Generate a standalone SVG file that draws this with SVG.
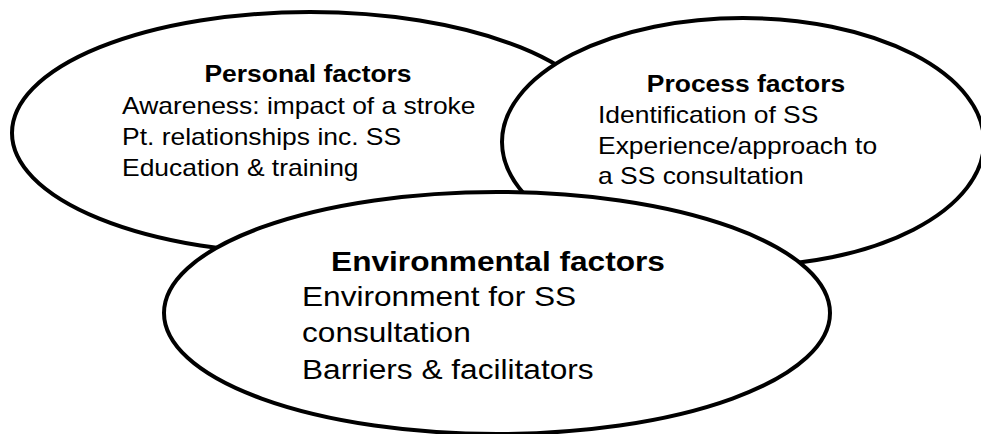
<svg xmlns="http://www.w3.org/2000/svg" width="981" height="434" viewBox="0 0 981 434">
  <style>
    .node ellipse { fill: #ffffff; stroke: #000000; stroke-width: 4; }
    .node text { font-family: "Liberation Sans", Arial, sans-serif; fill: #000000; }
    .title { font-weight: bold; text-anchor: middle; }
    .sm { font-size: 23px; }
    .lg { font-size: 27.5px; }
  </style>
  <rect x="0" y="0" width="981" height="434" fill="#ffffff"/>

  <!-- Personal factors -->
  <g id="personal" class="node">
    <ellipse cx="310" cy="133" rx="298" ry="121"/>
    <g transform="translate(308,82) scale(1.15,1)">
      <text class="title sm" x="0" y="0">Personal factors</text>
    </g>
    <g transform="translate(122,0) scale(1.15,1)">
      <text class="sm" x="0" y="114">Awareness: impact of a stroke</text>
      <text class="sm" x="0" y="145">Pt. relationships inc. SS</text>
      <text class="sm" x="0" y="176">Education &amp; training</text>
    </g>
  </g>

  <!-- Process factors -->
  <g id="process" class="node">
    <ellipse cx="743" cy="142" rx="241" ry="124"/>
    <g transform="translate(746,92) scale(1.15,1)">
      <text class="title sm" x="0" y="0">Process factors</text>
    </g>
    <g transform="translate(598,0) scale(1.15,1)">
      <text class="sm" x="0" y="123">Identification of SS</text>
      <text class="sm" x="0" y="154">Experience/approach to</text>
      <text class="sm" x="0" y="184">a SS consultation</text>
    </g>
  </g>

  <!-- Environmental factors -->
  <g id="environmental" class="node">
    <ellipse cx="497" cy="313" rx="333" ry="121"/>
    <g transform="translate(498,271) scale(1.15,1)">
      <text class="title lg" x="0" y="0">Environmental factors</text>
    </g>
    <g transform="translate(302,0) scale(1.15,1)">
      <text class="lg" x="0" y="306">Environment for SS</text>
      <text class="lg" x="0" y="342">consultation</text>
      <text class="lg" x="0" y="379">Barriers &amp; facilitators</text>
    </g>
  </g>
</svg>
